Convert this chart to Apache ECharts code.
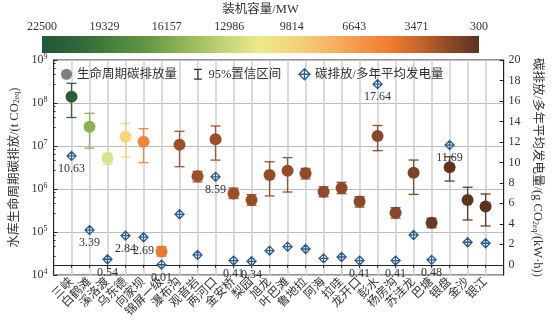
<!DOCTYPE html>
<html><head><meta charset="utf-8">
<script src="https://cdn.jsdelivr.net/npm/echarts@6/dist/echarts.min.js"></script>
<style>html,body{margin:0;padding:0;background:#fff}#c{width:552px;height:322px}</style>
</head><body><div id="c"></div>
<script>
const categories = ['三峡','白鹤滩','溪洛渡','乌东德','向家坝','锦屏一级','瀑布沟','观音岩','两河口','金安桥','梨园','旭龙','叶巴滩','鲁地拉','阿海','拉哇','龙开口','彭水','杨房沟','苏洼龙','巴塘','银盘','金沙','银江'];
const lifeCycle = [1.40e8, 2.8e7, 5.2e6, 1.65e7, 1.26e7, 3.5e4, 1.07e7, 1.97e6, 1.43e7, 7.9e5, 5.55e5, 2.12e6, 2.67e6, 2.31e6, 8.6e5, 1.05e6, 5.1e5, 1.71e7, 2.8e5, 2.4e6, 1.65e5, 3.2e6, 5.55e5, 3.9e5];
const ciLow = [4.6e7, 8.9e6, 3.75e6, 5.5e6, 4.1e6, 2.75e4, 3.3e6, 1.46e6, 4.7e6, 6.0e5, 4.2e5, 6.9e5, 8.5e5, 1.71e6, 6.6e5, 7.8e5, 3.8e5, 7.8e6, 2.1e5, 7.5e5, 1.26e5, 1.53e6, 1.9e5, 1.38e5];
const ciHigh = [2.87e8, 5.75e7, 6.8e6, 3.37e7, 2.53e7, 4.57e4, 2.2e7, 2.57e6, 2.92e7, 1.05e6, 7.4e5, 4.3e6, 5.37e6, 3.02e6, 1.13e6, 1.43e6, 6.6e5, 3.0e7, 3.68e5, 4.72e6, 2.09e5, 5.63e6, 1.1e6, 7.66e5];
const intensity = [10.63, 3.39, 0.54, 2.84, 2.69, 0.01, 4.93, 0.96, 8.59, 0.41, 0.34, 1.38, 1.77, 1.54, 0.62, 0.76, 0.41, 17.64, 0.41, 2.91, 0.48, 11.69, 2.2, 2.1];
const labeledStations = ['三峡','白鹤滩','溪洛渡','乌东德','向家坝','锦屏一级','两河口','金安桥','梨园','龙开口','彭水','杨房沟','巴塘','银盘'];
const capacityRange = [300, 22500];
const rightTicks = [0,2,4,6,8,10,12,14,16,18,20];

// styles
const pointColors = ['#2b5e38','#8db052','#d8e38c','#f6d77a','#f3843a','#ea7a30','#9e4f29','#9e4f29','#9c4e29','#9a4e2a','#984d29','#974c29','#954b29','#934a28','#914a28','#8f4927','#8d4827','#8b4727','#884626','#7d4124','#6b3a22','#5f3520','#5d3420','#5b3320'];
const colorbarStops = [[0,'#235637'],[0.08,'#2f673a'],[0.17,'#4a833d'],[0.25,'#699b45'],[0.33,'#96b65a'],[0.42,'#c5d379'],[0.5,'#eeea8b'],[0.58,'#f5d27a'],[0.67,'#f5b060'],[0.75,'#f38d41'],[0.8,'#ef7a2f'],[0.87,'#c2642d'],[0.93,'#8f4a28'],[1,'#5b3420']];
const FONT = "'Liberation Serif','Noto Sans CJK SC',serif";
const BLUE = '#2c5d8e';
const diamondPath = 'path://M5,0L10,5L5,10L0,5Z M5,0L5,10 M0,5L10,5';
const ibeamPath = 'path://M0,0H10V1.5H5.75V12.5H10V14H0V12.5H4.25V1.5H0Z';

const xCats = [''].concat(categories, ['']);
const chart = echarts.init(document.getElementById('c'), null, {renderer:'canvas'});

const option = {
  animation: false,
  backgroundColor: '#fff',
  textStyle: {fontFamily: FONT},
  grid: [
    {left: 47, right: 45, top: 60, bottom: 47, show: true, borderColor: '#222', borderWidth: 1, backgroundColor: 'transparent'},
    {left: 42, top: 36, width: 437, height: 17}
  ],
  legend: {
    left: 56, top: 63, itemGap: 17, itemWidth: 11, itemHeight: 11,
    textStyle: {fontFamily: FONT, fontSize: 12.5, color: '#333'},
    data: [
      {name: '生命周期碳排放量', icon: 'circle', itemStyle: {color: '#7f7f7f', opacity: 1}},
      {name: '95%置信区间', icon: ibeamPath, itemStyle: {color: '#333'}},
      {name: '碳排放/多年平均发电量', icon: diamondPath, itemStyle: {color: '#fff', borderColor: BLUE, borderWidth: 1.3}}
    ]
  },
  xAxis: [
    {
      type: 'category', gridIndex: 0, data: xCats, boundaryGap: false,
      axisLine: {lineStyle: {color: '#222'}},
      axisTick: {show: true, length: 3, interval: 0, lineStyle: {color: '#222'}},
      axisLabel: {interval: 0, rotate: 45, margin: 5, fontSize: 12, color: '#333', fontFamily: FONT},
      splitLine: {show: true, interval: 0, lineStyle: {color: '#cfcfcf', width: 1.5}}
    },
    {
      type: 'value', gridIndex: 1, min: capacityRange[0], max: capacityRange[1],
      interval: (capacityRange[1] - capacityRange[0]) / 7, inverse: true, position: 'top',
      axisLine: {show: false}, axisTick: {show: false}, splitLine: {show: false},
      axisLabel: {margin: 3, fontSize: 12, color: '#333', fontFamily: FONT, formatter: v => String(Math.round(v))},
      name: '装机容量/MW', nameLocation: 'middle', nameGap: 20,
      nameTextStyle: {fontSize: 12.5, color: '#333', fontFamily: FONT}
    }
  ],
  yAxis: [
    {
      type: 'log', gridIndex: 0, logBase: 10, min: 1e4, max: 1e9,
      axisLine: {show: true, lineStyle: {color: '#222'}},
      axisTick: {show: true, inside: true, length: 4, lineStyle: {color: '#222'}},
      minorTick: {show: true, splitNumber: 5, length: 2, lineStyle: {color: '#222'}},
      axisLabel: {
        margin: 6, fontSize: 12, color: '#333', fontFamily: FONT,
        formatter: v => '10{sup|' + Math.round(Math.log10(v)) + '}',
        rich: {sup: {fontSize: 8, verticalAlign: 'top', fontFamily: FONT, color: '#333', padding: [0,0,6,0]}}
      },
      splitLine: {show: true, lineStyle: {color: '#bdbdbd', width: 1.2}},
      name: '水库生命周期碳排放/(t CO{sub|2eq})', nameLocation: 'middle', nameGap: 33,
      nameTextStyle: {fontSize: 12.5, color: '#333', fontFamily: FONT,
        rich: {sub: {fontSize: 8, verticalAlign: 'bottom', fontFamily: FONT, color: '#333'}}}
    },
    {
      type: 'value', gridIndex: 0, position: 'right', min: -1, max: 20,
      axisLine: {show: true, lineStyle: {color: '#222'}},
      axisTick: {show: true, inside: true, length: 4, customValues: rightTicks, lineStyle: {color: '#222'}},
      axisLabel: {margin: 5, fontSize: 12, color: '#333', fontFamily: FONT, customValues: rightTicks},
      splitLine: {show: false},
      name: '碳排放/多年平均发电量/(g CO{sub|2eq}/(kW·h))', nameLocation: 'middle', nameGap: 24, nameRotate: -90,
      nameTextStyle: {fontSize: 12.5, color: '#333', fontFamily: FONT,
        rich: {sub: {fontSize: 8, verticalAlign: 'bottom', fontFamily: FONT, color: '#333'}}}
    },
    {type: 'category', gridIndex: 1, data: ['cb'], show: false}
  ],
  series: [
    {
      name: '95%置信区间', type: 'custom', xAxisIndex: 0, yAxisIndex: 0, z: 2,
      encode: {x: 0, y: [1, 2]},
      data: categories.map((c, i) => [c, ciLow[i], ciHigh[i]]),
      renderItem: (params, api) => {
        const x = api.value(0);
        const lo = api.coord([x, api.value(1)]);
        const hi = api.coord([x, api.value(2)]);
        const w = 5;
        const col = pointColors[params.dataIndex];
        const st = {stroke: col, lineWidth: 1.3, opacity: 0.95};
        return {type: 'group', children: [
          {type: 'line', shape: {x1: lo[0], y1: lo[1], x2: hi[0], y2: hi[1]}, style: st},
          {type: 'line', shape: {x1: lo[0]-w, y1: lo[1], x2: lo[0]+w, y2: lo[1]}, style: st},
          {type: 'line', shape: {x1: hi[0]-w, y1: hi[1], x2: hi[0]+w, y2: hi[1]}, style: st}
        ]};
      }
    },
    {
      name: '生命周期碳排放量', type: 'scatter', xAxisIndex: 0, yAxisIndex: 0, z: 3,
      symbol: 'circle', symbolSize: 12,
      itemStyle: {opacity: 1},
      data: categories.map((c, i) => ({value: [c, lifeCycle[i]], itemStyle: {color: pointColors[i], opacity: 1}}))
    },
    {
      name: '碳排放/多年平均发电量', type: 'scatter', xAxisIndex: 0, yAxisIndex: 1, z: 4,
      symbol: diamondPath, symbolSize: 9,
      itemStyle: {color: 'rgba(255,255,255,0.6)', borderColor: BLUE, borderWidth: 1.3, opacity: 1},
      data: categories.map((c, i) => ({
        value: [c, intensity[i]],
        label: {show: labeledStations.includes(c)}
      })),
      label: {position: 'bottom', distance: 2, fontSize: 12, color: '#333', fontFamily: FONT,
        formatter: p => p.value[1].toFixed(2)}
    },
    {
      name: 'colorbar', type: 'custom', xAxisIndex: 1, yAxisIndex: 2, silent: true,
      encode: {x: [0, 1], y: 2},
      data: [[capacityRange[1], capacityRange[0], 'cb']],
      renderItem: (params, api) => {
        const p1 = api.coord([api.value(0), 0]);
        const p2 = api.coord([api.value(1), 0]);
        const h = api.size([0, 1])[1];
        const x0 = Math.min(p1[0], p2[0]);
        return {type: 'rect', shape: {x: x0, y: p1[1] - h/2, width: Math.abs(p2[0]-p1[0]), height: h},
          style: {fill: new echarts.graphic.LinearGradient(0, 0, 1, 0, colorbarStops.map(s => ({offset: s[0], color: s[1]})))}};
      }
    }
  ]
};
chart.setOption(option);
</script></body></html>
